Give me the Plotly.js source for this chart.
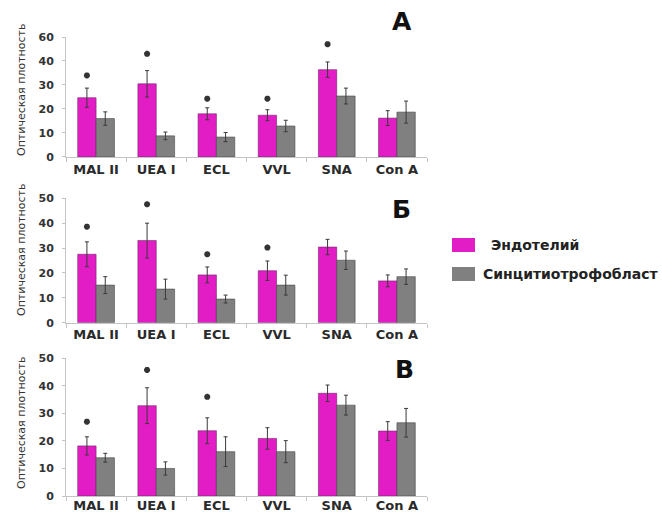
<!DOCTYPE html>
<html>
<head>
<meta charset="utf-8">
<script src="https://cdn.plot.ly/plotly-3.0.1.min.js"></script>
<style>html,body{margin:0;padding:0;background:#fff}#chart{width:662px;height:514px}</style>
</head>
<body>
<div id="chart"></div>
<script>
// ---- data ----
const categories = ["MAL II", "UEA I", "ECL", "VVL", "SNA", "Con A"];
const seriesNames = ["Эндотелий", "Синцитиотрофобласт"];
const panelLabels = ["А", "Б", "В"];
const yTitle = "Оптическая плотность";

// Panel А
const endoA = [24.7, 30.5, 18.0, 17.4, 36.4, 16.2];
const endoErrA = [4.0, 5.5, 2.5, 2.3, 3.2, 3.1];
const syncA = [16.0, 8.8, 8.3, 12.9, 25.4, 18.7];
const syncErrA = [2.8, 1.6, 1.9, 2.4, 3.3, 4.6];
const starA = [34, 43, 24.3, 24.3, 47, null];

// Panel Б
const endoB = [27.5, 33.0, 19.2, 20.9, 30.4, 16.8];
const endoErrB = [5.0, 7.0, 3.2, 3.9, 3.1, 2.4];
const syncB = [15.1, 13.5, 9.5, 15.1, 25.1, 18.5];
const syncErrB = [3.4, 4.0, 1.6, 4.0, 3.7, 3.1];
const starB = [38.6, 47.6, 27.5, 30.2, null, null];

// Panel В
const endoC = [18.2, 32.8, 23.7, 20.9, 37.3, 23.6];
const endoErrC = [3.3, 6.5, 4.7, 3.9, 3.0, 3.4];
const syncC = [13.9, 10.0, 16.1, 16.1, 33.0, 26.6];
const syncErrC = [1.6, 2.4, 5.4, 4.0, 3.6, 5.2];
const starC = [27, 45.8, 36, null, null, null];

const yTickVals = [0, 10, 20, 30, 40, 50];
const yTickTextA = ["0", "10", "20", "30", "40", "60"];
const yTickText = ["0", "10", "20", "30", "40", "50"];

// ---- styles ----
const PINK = "#e31dc6";
const GRAY = "#808080";
const BARW = 0.305;
const FONT = "DejaVu Sans, Arial, sans-serif";

const idx = categories.map((_, i) => i);
const panels = [
  {e: endoA, ee: endoErrA, s: syncA, se: syncErrA, star: starA},
  {e: endoB, ee: endoErrB, s: syncB, se: syncErrB, star: starB},
  {e: endoC, ee: endoErrC, s: syncC, se: syncErrC, star: starC}
];

const traces = [];
panels.forEach((p, k) => {
  const xa = k === 0 ? "x" : "x" + (k + 1);
  const ya = k === 0 ? "y" : "y" + (k + 1);
  traces.push({
    type: "bar", x: idx, y: p.e, name: seriesNames[0], xaxis: xa, yaxis: ya,
    width: BARW, offset: -BARW, showlegend: false,
    marker: {color: PINK, line: {color: "#6a2a60", width: 0.6}},
    error_y: {type: "data", array: p.ee, visible: true, color: "#3a3a3a", thickness: 1, width: 2}
  });
  traces.push({
    type: "bar", x: idx, y: p.s, name: seriesNames[1], xaxis: xa, yaxis: ya,
    width: BARW, offset: 0, showlegend: false,
    marker: {color: GRAY, line: {color: "#444", width: 0.6}},
    error_y: {type: "data", array: p.se, visible: true, color: "#3a3a3a", thickness: 1, width: 2}
  });
  traces.push({
    type: "scatter", mode: "markers", xaxis: xa, yaxis: ya, showlegend: false,
    x: idx.map(i => i - BARW / 2), y: p.star, cliponaxis: false, hoverinfo: "skip",
    marker: {symbol: "asterisk-open", size: 5, color: "#333", line: {color: "#333", width: 2}}
  });
});

const xDomain = [66 / 662, 427 / 662];
const yDomains = [[0.6946, 0.9280], [0.3722, 0.6142], [0.0350, 0.3029]];

function xAxis(anchor, standoff) {
  return {
    domain: xDomain, anchor: anchor, range: [-0.5, 5.5],
    tickmode: "array", tickvals: idx, ticktext: categories, ticks: "",
    showline: true, linecolor: "#c4c4c4", linewidth: 1, showgrid: false, zeroline: false,
    tickfont: {family: FONT, size: 13, color: "#2a2a2a", weight: "bold"},
    ticklabelstandoff: standoff,
    minor: {ticks: "outside", ticklen: 4, tickcolor: "#c4c4c4", tickwidth: 1, tick0: 0.5, dtick: 1, showgrid: false},
    fixedrange: true
  };
}
function yAxis(k, anchor) {
  return {
    domain: yDomains[k], anchor: anchor, range: [0, 50],
    tickmode: "array", tickvals: yTickVals, ticktext: k === 0 ? yTickTextA : yTickText,
    ticks: "outside", ticklen: 3, tickcolor: "#c4c4c4",
    showline: true, linecolor: "#c4c4c4", linewidth: 1, showgrid: false, zeroline: false,
    tickfont: {family: FONT, size: 11, color: "#333", weight: "bold"},
    ticklabelstandoff: 6, fixedrange: true
  };
}

const annotations = [];
const letterPos = [[402, 22], [401, 209], [404, 369]];
panelLabels.forEach((t, k) => {
  annotations.push({
    xref: "paper", yref: "paper", x: letterPos[k][0] / 662, y: 1 - letterPos[k][1] / 514,
    text: t, showarrow: false, xanchor: "center", yanchor: "middle",
    font: {family: FONT, size: 25, color: "#111", weight: "bold"}
  });
});
const titleY = [90, 250, 423];
titleY.forEach(yy => {
  annotations.push({
    xref: "paper", yref: "paper", x: 21 / 662, y: 1 - yy / 514, text: yTitle, textangle: -90,
    showarrow: false, xanchor: "center", yanchor: "middle",
    font: {family: FONT, size: 11, color: "#333"}
  });
});
// legend texts
annotations.push({
  xref: "paper", yref: "paper", x: 489 / 662, y: 1 - 245 / 514, text: seriesNames[0],
  showarrow: false, xanchor: "left", yanchor: "middle",
  font: {family: FONT, size: 14, color: "#222", weight: "bold"}
});
annotations.push({
  xref: "paper", yref: "paper", x: 481 / 662, y: 1 - 274 / 514, text: seriesNames[1],
  showarrow: false, xanchor: "left", yanchor: "middle",
  font: {family: FONT, size: 14, color: "#222", weight: "bold"}
});

const shapes = [
  {type: "rect", xref: "paper", yref: "paper", x0: 452 / 662, x1: 475 / 662, y0: 1 - 252 / 514, y1: 1 - 238 / 514,
   fillcolor: PINK, line: {width: 0}},
  {type: "rect", xref: "paper", yref: "paper", x0: 452 / 662, x1: 475 / 662, y0: 1 - 281 / 514, y1: 1 - 267 / 514,
   fillcolor: GRAY, line: {width: 0}}
];

const layout = {
  width: 662, height: 514,
  margin: {l: 0, r: 0, t: 0, b: 0},
  paper_bgcolor: "#fff", plot_bgcolor: "#fff",
  barmode: "overlay", showlegend: false,
  xaxis: xAxis("y", 0), yaxis: yAxis(0, "x"),
  xaxis2: xAxis("y2", 0), yaxis2: yAxis(1, "x2"),
  xaxis3: xAxis("y3", -3), yaxis3: yAxis(2, "x3"),
  annotations: annotations, shapes: shapes
};

Plotly.newPlot("chart", traces, layout, {displayModeBar: false, staticPlot: true});
</script>
</body>
</html>
